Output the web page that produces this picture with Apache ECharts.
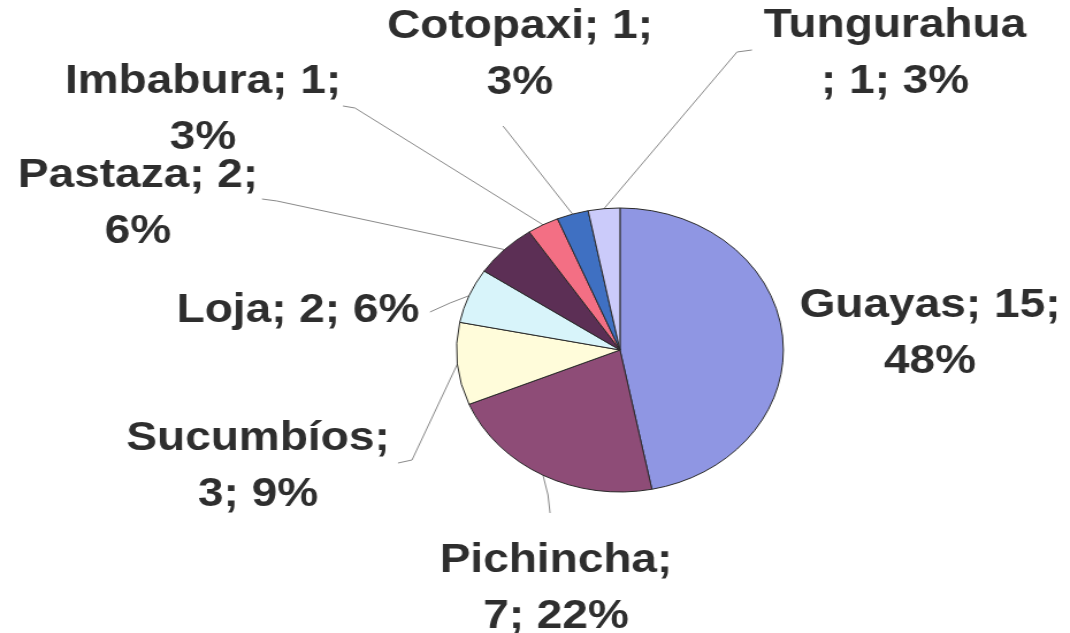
<!DOCTYPE html>
<html>
<head>
<meta charset="utf-8">
<script src="https://cdn.jsdelivr.net/npm/echarts@6/dist/echarts.min.js"></script>
<style>
  html, body { margin: 0; padding: 0; background: #ffffff; overflow: hidden; }
  #main { width: 930px; height: 633px; transform: scaleX(1.1505); transform-origin: 0 0; }
</style>
</head>
<body>
<div id="main"></div>
<script>
// ---- data ----
const categories = ['Guayas', 'Pichincha', 'Sucumbíos', 'Loja', 'Pastaza', 'Imbabura', 'Cotopaxi', 'Tungurahua'];
const values = [15, 7, 3, 2, 2, 1, 1, 1];
const pctLabels = ['48%', '22%', '9%', '6%', '6%', '3%', '3%', '3%'];
// where each label wraps: 'value' -> "Name; v;\np%", 'name' -> "Name;\nv; p%", 'none' -> one line, 'pre' -> "Name\n; v; p%"
const wrapModes = ['value', 'name', 'name', 'none', 'value', 'value', 'value', 'pre'];

// ---- styles / layout ----
const S = 1.1505; // horizontal stretch of the original picture
const colors = ['#8F96E3', '#8E4C77', '#FFFCDA', '#D8F4FA', '#5C2F55', '#F36F84', '#3F70C2', '#CBCBFA'];
// label block centres, in picture pixels
const labelCenters = [[930, 334], [556, 589], [258, 467], [298, 311], [138, 204], [203, 110], [520, 55], [895, 54]];
// leader line bend/end points, in picture pixels
const leaderEnds = [null, [[548, 495], [550, 513]], [[412, 460], [398, 463]], [[450, 303], [430, 312]],
  [[277, 201], [262, 199]], [[355, 108], [343, 106]], [[507, 131], [503, 126]], [[737, 52], [752, 50]]];

function labelText(i) {
  const n = categories[i], v = values[i], p = pctLabels[i];
  switch (wrapModes[i]) {
    case 'value': return n + '; ' + v + ';\n' + p;
    case 'name': return n + ';\n' + v + '; ' + p;
    case 'pre': return n + '\n; ' + v + '; ' + p;
    default: return n + '; ' + v + '; ' + p;
  }
}

const chart = echarts.init(document.getElementById('main'), null, { renderer: 'canvas' });
chart.setOption({
  backgroundColor: '#ffffff',
  animation: false,
  series: [{
    type: 'pie',
    center: [620 / S, 350],
    radius: 142,
    startAngle: 90,
    clockwise: true,
    avoidLabelOverlap: false,
    itemStyle: { borderColor: '#2a2a2a', borderWidth: 1 },
    label: {
      show: true,
      position: 'outside',
      formatter: p => labelText(p.dataIndex),
      fontFamily: 'Liberation Sans',
      fontWeight: 'bold',
      fontSize: 40,
      lineHeight: 56,
      color: '#2e2e2e',
      align: 'center'
    },
    labelLine: { show: true, smooth: false, lineStyle: { color: '#8a8a8a', width: 1 } },
    labelLayout: function (params) {
      const i = params.dataIndex;
      const c = labelCenters[i];
      const out = { x: c[0] / S, y: c[1], align: 'center', verticalAlign: 'middle' };
      const ends = leaderEnds[i];
      if (ends && params.labelLinePoints) {
        out.labelLinePoints = [params.labelLinePoints[0]].concat(ends.map(q => [q[0] / S, q[1]]));
      }
      return out;
    },
    data: categories.map((name, i) => ({
      name: name,
      value: values[i],
      itemStyle: { color: colors[i] },
      labelLine: { show: leaderEnds[i] !== null }
    }))
  }]
});
</script>
</body>
</html>
